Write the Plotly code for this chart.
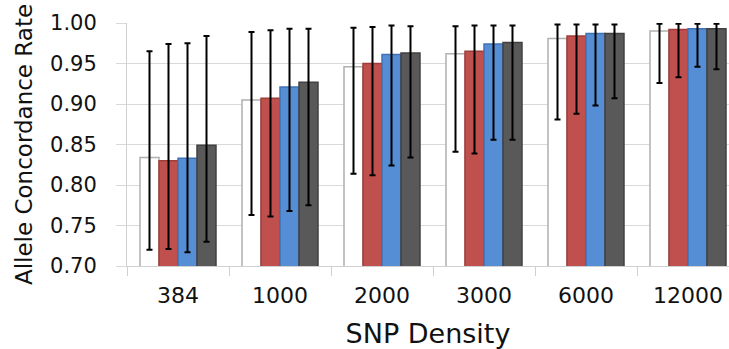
import plotly.graph_objects as go

categories = ["384", "1000", "2000", "3000", "6000", "12000"]
series_names = ["Series 1", "Series 2", "Series 3", "Series 4"]

s1_mean = [0.834, 0.905, 0.946, 0.962, 0.981, 0.990]
s1_hi   = [0.965, 0.989, 0.994, 0.996, 0.998, 0.999]
s1_lo   = [0.720, 0.763, 0.814, 0.841, 0.881, 0.926]

s2_mean = [0.830, 0.907, 0.950, 0.965, 0.984, 0.992]
s2_hi   = [0.974, 0.991, 0.995, 0.997, 0.998, 0.999]
s2_lo   = [0.721, 0.761, 0.812, 0.839, 0.888, 0.933]

s3_mean = [0.833, 0.921, 0.961, 0.974, 0.987, 0.993]
s3_hi   = [0.975, 0.993, 0.997, 0.997, 0.998, 0.999]
s3_lo   = [0.717, 0.768, 0.824, 0.856, 0.898, 0.946]

s4_mean = [0.849, 0.927, 0.963, 0.976, 0.987, 0.993]
s4_hi   = [0.984, 0.993, 0.996, 0.997, 0.998, 0.999]
s4_lo   = [0.730, 0.775, 0.834, 0.856, 0.907, 0.943]

y_ticks = [0.70, 0.75, 0.80, 0.85, 0.90, 0.95, 1.00]

fills = ["#FFFFFF", "#C0504D", "#558ED5", "#595959"]
lines = ["#B0B0B0", "#9E3E3B", "#3F73B5", "#404040"]

fig = go.Figure()
all_series = [(s1_mean, s1_hi, s1_lo), (s2_mean, s2_hi, s2_lo),
              (s3_mean, s3_hi, s3_lo), (s4_mean, s4_hi, s4_lo)]
for i, (m, hi, lo) in enumerate(all_series):
    fig.add_trace(go.Bar(
        x=categories, y=m, name=series_names[i],
        marker=dict(color=fills[i], line=dict(color=lines[i], width=1.5)),
        error_y=dict(type="data", symmetric=False,
                     array=[h - v for h, v in zip(hi, m)],
                     arrayminus=[v - l for v, l in zip(m, lo)],
                     color="#000000", thickness=2, width=3),
        showlegend=False,
    ))

font_family = "DejaVu Sans"
fig.update_layout(
    width=729, height=349,
    margin=dict(l=127, r=0, t=23, b=83),
    paper_bgcolor="white", plot_bgcolor="white",
    barmode="group", bargap=0.255, bargroupgap=0,
    font=dict(family=font_family, color="#111111"),
    xaxis=dict(
        type="category", range=[-0.5, 5.402],
        tickfont=dict(size=22), ticks="outside", tickson="boundaries",
        ticklen=9, tickcolor="#D0D0D0", tickwidth=1,
        showgrid=False, showline=True, linecolor="#D0D0D0", linewidth=1,
        ticklabelstandoff=10,
        title=dict(text="SNP Density", font=dict(size=27), standoff=18),
        automargin=False,
    ),
    yaxis=dict(
        range=[0.70, 1.00], tickvals=y_ticks, tickformat=".2f",
        tickfont=dict(size=21), ticks="outside", ticklen=10,
        tickcolor="#D9D9D9", tickwidth=1,
        showgrid=True, gridcolor="#D9D9D9", gridwidth=1,
        showline=True, linecolor="#D0D0D0", linewidth=1,
        ticklabelstandoff=15, zeroline=False,
        title=dict(text="Allele Concordance Rate", font=dict(size=23), standoff=10),
        automargin=False,
    ),
)

fig.write_html("out.html")
